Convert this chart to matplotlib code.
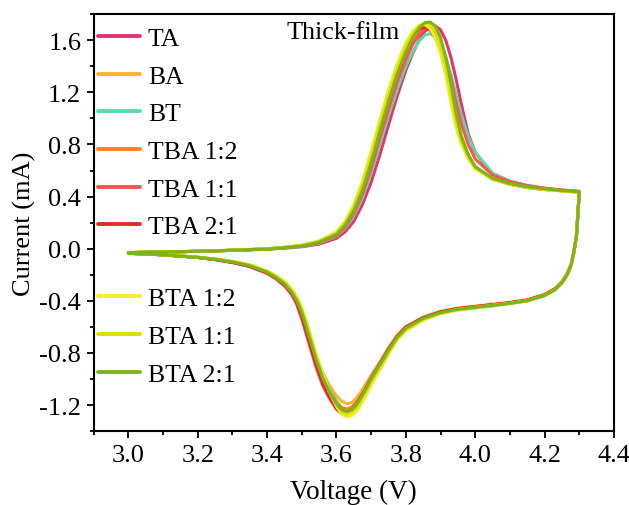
import matplotlib
matplotlib.use("Agg")
import matplotlib.pyplot as plt
from matplotlib.ticker import MultipleLocator, FormatStrFormatter

plt.rcParams['font.family'] = ['Liberation Serif', 'DejaVu Serif']
plt.rcParams['axes.unicode_minus'] = False

# ---- data ----
labels = ["TA", "BA", "BT", "TBA 1:2", "TBA 1:1", "TBA 2:1", "BTA 1:2", "BTA 1:1", "BTA 2:1"]
colors = ["#E5336F", "#FFB428", "#5CD8A6", "#FF7F2A", "#FF5252", "#E02C2C", "#F4EC2E", "#DCE000", "#7CB518"]

V_fwd = [3.0, 3.1, 3.2, 3.3, 3.4, 3.45, 3.5, 3.55, 3.6, 3.625, 3.65, 3.675, 3.7, 3.725, 3.75, 3.775,
         3.8, 3.82, 3.84, 3.855, 3.87, 3.885, 3.9, 3.915, 3.93, 3.945, 3.96, 3.98, 4.0, 4.05, 4.1,
         4.15, 4.2, 4.25, 4.3]
V_rev = [4.3, 4.297, 4.292, 4.285, 4.277, 4.265, 4.25, 4.23, 4.2, 4.15, 4.1, 4.05, 4.0, 3.95, 3.9,
         3.85, 3.8, 3.775, 3.75, 3.725, 3.7, 3.68, 3.66, 3.645, 3.63, 3.615, 3.6, 3.58, 3.56, 3.54,
         3.52, 3.5, 3.485, 3.47, 3.45, 3.425, 3.4, 3.35, 3.3, 3.25, 3.2, 3.1, 3.0]

I_fwd_TA = [-0.03, -0.025, -0.02, -0.013, -0.004, 0.004, 0.015, 0.035, 0.08, 0.13, 0.21, 0.34, 0.51, 0.72, 0.95, 1.17,
            1.37, 1.50, 1.61, 1.67, 1.70, 1.71, 1.68, 1.60, 1.47, 1.30, 1.11, 0.88, 0.74, 0.57, 0.51,
            0.48, 0.46, 0.445, 0.435]
I_rev_TA = [0.435, 0.30, 0.10, -0.02, -0.12, -0.20, -0.26, -0.31, -0.355, -0.395, -0.415, -0.43, -0.445, -0.46, -0.485,
            -0.53, -0.60, -0.67, -0.77, -0.88, -0.99, -1.09, -1.18, -1.23, -1.25, -1.24, -1.21, -1.13, -1.03, -0.88,
            -0.70, -0.52, -0.41, -0.34, -0.28, -0.225, -0.185, -0.135, -0.105, -0.083, -0.067, -0.047, -0.035]

I_fwd_BA = [-0.03, -0.025, -0.02, -0.012, -0.002, 0.008, 0.021, 0.048, 0.105, 0.175, 0.28, 0.44, 0.64, 0.87, 1.10, 1.31,
            1.48, 1.59, 1.67, 1.70, 1.71, 1.68, 1.60, 1.46, 1.27, 1.05, 0.87, 0.72, 0.63, 0.535, 0.495,
            0.47, 0.455, 0.443, 0.432]
I_rev_BA = [0.432, 0.30, 0.10, -0.02, -0.12, -0.19, -0.25, -0.305, -0.35, -0.39, -0.41, -0.425, -0.44, -0.455, -0.48,
            -0.525, -0.60, -0.665, -0.76, -0.87, -0.97, -1.06, -1.14, -1.18, -1.19, -1.17, -1.13, -1.05, -0.95, -0.81,
            -0.64, -0.48, -0.39, -0.325, -0.265, -0.215, -0.178, -0.128, -0.10, -0.08, -0.065, -0.046, -0.035]

I_fwd_BT = [-0.03, -0.025, -0.02, -0.012, -0.003, 0.006, 0.018, 0.042, 0.095, 0.155, 0.25, 0.39, 0.58, 0.80, 1.02, 1.22,
            1.40, 1.51, 1.60, 1.64, 1.65, 1.63, 1.57, 1.47, 1.34, 1.18, 1.03, 0.86, 0.74, 0.58, 0.52,
            0.485, 0.465, 0.45, 0.44]
I_rev_BT = [0.44, 0.30, 0.10, -0.02, -0.12, -0.20, -0.26, -0.315, -0.36, -0.40, -0.42, -0.44, -0.455, -0.47, -0.495,
            -0.54, -0.615, -0.69, -0.79, -0.90, -1.01, -1.11, -1.19, -1.23, -1.24, -1.22, -1.17, -1.08, -0.97, -0.82,
            -0.65, -0.48, -0.39, -0.325, -0.265, -0.215, -0.178, -0.128, -0.10, -0.08, -0.066, -0.046, -0.035]

I_fwd_TBA12 = [-0.03, -0.025, -0.02, -0.012, -0.002, 0.008, 0.022, 0.05, 0.11, 0.18, 0.29, 0.45, 0.66, 0.89, 1.12, 1.33,
               1.50, 1.61, 1.69, 1.72, 1.715, 1.67, 1.57, 1.41, 1.21, 1.00, 0.84, 0.71, 0.625, 0.535, 0.50,
               0.475, 0.46, 0.45, 0.44]
I_rev_TBA12 = [0.44, 0.30, 0.10, -0.02, -0.12, -0.195, -0.255, -0.31, -0.355, -0.395, -0.415, -0.43, -0.445, -0.46, -0.485,
               -0.53, -0.60, -0.67, -0.77, -0.88, -0.99, -1.09, -1.17, -1.215, -1.23, -1.22, -1.18, -1.10, -0.99, -0.85,
               -0.67, -0.50, -0.40, -0.335, -0.275, -0.222, -0.182, -0.132, -0.103, -0.082, -0.067, -0.047, -0.035]

I_fwd_TBA11 = [-0.03, -0.025, -0.02, -0.012, -0.002, 0.008, 0.021, 0.045, 0.10, 0.165, 0.27, 0.42, 0.62, 0.85, 1.07, 1.28,
               1.45, 1.57, 1.65, 1.69, 1.69, 1.66, 1.58, 1.46, 1.30, 1.12, 0.96, 0.80, 0.69, 0.565, 0.515,
               0.485, 0.465, 0.45, 0.44]
I_rev_TBA11 = [0.44, 0.30, 0.10, -0.02, -0.12, -0.20, -0.26, -0.31, -0.355, -0.395, -0.415, -0.43, -0.445, -0.46, -0.485,
               -0.53, -0.60, -0.67, -0.77, -0.88, -0.99, -1.09, -1.18, -1.23, -1.255, -1.26, -1.23, -1.15, -1.05, -0.90,
               -0.72, -0.54, -0.425, -0.35, -0.285, -0.23, -0.19, -0.137, -0.106, -0.084, -0.068, -0.047, -0.035]

I_fwd_TBA21 = [-0.03, -0.025, -0.02, -0.012, -0.001, 0.01, 0.024, 0.055, 0.12, 0.19, 0.31, 0.48, 0.69, 0.93, 1.16, 1.37,
               1.54, 1.64, 1.69, 1.70, 1.68, 1.62, 1.52, 1.37, 1.18, 0.99, 0.84, 0.71, 0.625, 0.535, 0.495,
               0.47, 0.455, 0.445, 0.435]
I_rev_TBA21 = [0.435, 0.30, 0.10, -0.02, -0.12, -0.20, -0.26, -0.31, -0.355, -0.395, -0.415, -0.43, -0.445, -0.46, -0.485,
               -0.53, -0.605, -0.675, -0.775, -0.89, -1.00, -1.10, -1.19, -1.24, -1.265, -1.265, -1.23, -1.14, -1.03, -0.88,
               -0.70, -0.52, -0.41, -0.34, -0.28, -0.225, -0.185, -0.135, -0.105, -0.083, -0.067, -0.047, -0.035]

I_fwd_BTA12 = [-0.03, -0.025, -0.02, -0.011, 0.0, 0.011, 0.027, 0.06, 0.13, 0.21, 0.34, 0.52, 0.75, 0.99, 1.22, 1.42,
               1.58, 1.67, 1.715, 1.72, 1.69, 1.62, 1.50, 1.33, 1.12, 0.93, 0.80, 0.69, 0.615, 0.53, 0.495,
               0.47, 0.455, 0.443, 0.433]
I_rev_BTA12 = [0.433, 0.30, 0.10, -0.02, -0.12, -0.20, -0.26, -0.315, -0.36, -0.40, -0.42, -0.435, -0.455, -0.47, -0.50,
               -0.55, -0.63, -0.70, -0.81, -0.93, -1.05, -1.15, -1.24, -1.28, -1.29, -1.27, -1.21, -1.10, -0.96, -0.79,
               -0.61, -0.45, -0.365, -0.305, -0.25, -0.205, -0.17, -0.123, -0.097, -0.078, -0.065, -0.046, -0.035]

I_fwd_BTA11 = [-0.03, -0.025, -0.02, -0.011, -0.001, 0.01, 0.025, 0.056, 0.12, 0.20, 0.32, 0.49, 0.71, 0.95, 1.18, 1.38,
               1.55, 1.65, 1.715, 1.73, 1.72, 1.67, 1.56, 1.40, 1.19, 0.98, 0.83, 0.705, 0.62, 0.535, 0.497,
               0.472, 0.457, 0.445, 0.435]
I_rev_BTA11 = [0.435, 0.30, 0.10, -0.02, -0.12, -0.20, -0.26, -0.315, -0.36, -0.40, -0.42, -0.435, -0.45, -0.465, -0.495,
               -0.54, -0.62, -0.69, -0.795, -0.91, -1.02, -1.12, -1.21, -1.255, -1.27, -1.255, -1.20, -1.10, -0.98, -0.82,
               -0.64, -0.47, -0.38, -0.318, -0.26, -0.212, -0.175, -0.125, -0.098, -0.079, -0.066, -0.046, -0.035]

I_fwd_BTA21 = [-0.03, -0.025, -0.02, -0.012, -0.002, 0.008, 0.022, 0.05, 0.11, 0.18, 0.29, 0.45, 0.66, 0.90, 1.13, 1.34,
               1.51, 1.62, 1.70, 1.735, 1.74, 1.71, 1.62, 1.47, 1.27, 1.04, 0.86, 0.72, 0.63, 0.54, 0.50,
               0.475, 0.46, 0.447, 0.437]
I_rev_BTA21 = [0.437, 0.30, 0.10, -0.02, -0.12, -0.20, -0.26, -0.315, -0.36, -0.40, -0.42, -0.435, -0.45, -0.465, -0.49,
               -0.535, -0.61, -0.68, -0.78, -0.89, -1.00, -1.10, -1.19, -1.235, -1.25, -1.235, -1.19, -1.10, -0.99, -0.84,
               -0.66, -0.49, -0.395, -0.33, -0.27, -0.22, -0.18, -0.13, -0.101, -0.081, -0.066, -0.047, -0.035]

fwd = [I_fwd_TA, I_fwd_BA, I_fwd_BT, I_fwd_TBA12, I_fwd_TBA11, I_fwd_TBA21, I_fwd_BTA12, I_fwd_BTA11, I_fwd_BTA21]
rev = [I_rev_TA, I_rev_BA, I_rev_BT, I_rev_TBA12, I_rev_TBA11, I_rev_TBA21, I_rev_BTA12, I_rev_BTA11, I_rev_BTA21]

# ---- figure ----
fig = plt.figure(figsize=(6.29, 5.06), dpi=100)
ax = fig.add_axes([0.149, 0.146, 0.827, 0.824])

handles = []
for lab, col, f, r in zip(labels, colors, fwd, rev):
    h, = ax.plot(V_fwd + V_rev, f + r, color=col, lw=2.2, label=lab,
                 solid_joinstyle='round', solid_capstyle='round')
    handles.append(h)

ax.set_xlim(2.9, 4.4)
ax.set_ylim(-1.4, 1.8)
ax.xaxis.set_major_locator(MultipleLocator(0.2))
ax.xaxis.set_minor_locator(MultipleLocator(0.1))
ax.yaxis.set_major_locator(MultipleLocator(0.4))
ax.yaxis.set_minor_locator(MultipleLocator(0.2))
ax.xaxis.set_major_formatter(FormatStrFormatter('%.1f'))
ax.yaxis.set_major_formatter(FormatStrFormatter('%.1f'))

for s in ax.spines.values():
    s.set_linewidth(1.5)
ax.tick_params(which='both', direction='out', top=False, right=False, width=1.3, labelsize=19, pad=4)
ax.tick_params(which='major', length=5)
ax.tick_params(which='minor', length=3)

ax.set_xlabel("Voltage (V)", fontsize=19.5, labelpad=9.5)
ax.set_ylabel("Current (mA)", fontsize=19, labelpad=2.5)

ax.text(3.62, 1.665, "Thick-film", fontsize=18.8, ha='center', va='center')

leg_kw = dict(loc='upper left', frameon=False, fontsize=18.5, handlelength=1.65, handletextpad=0.3,
              labelspacing=0.57, borderaxespad=0.0, borderpad=0.0)
leg1 = ax.legend(handles=handles[:6], bbox_to_anchor=(0.008, 0.969), **leg_kw)
for lh in leg1.get_lines():
    lh.set_linewidth(2.8)
ax.add_artist(leg1)
leg2 = ax.legend(handles=handles[6:], bbox_to_anchor=(0.008, 0.345), **leg_kw)
for lh in leg2.get_lines():
    lh.set_linewidth(2.8)

fig.savefig("out.png", dpi=100)
